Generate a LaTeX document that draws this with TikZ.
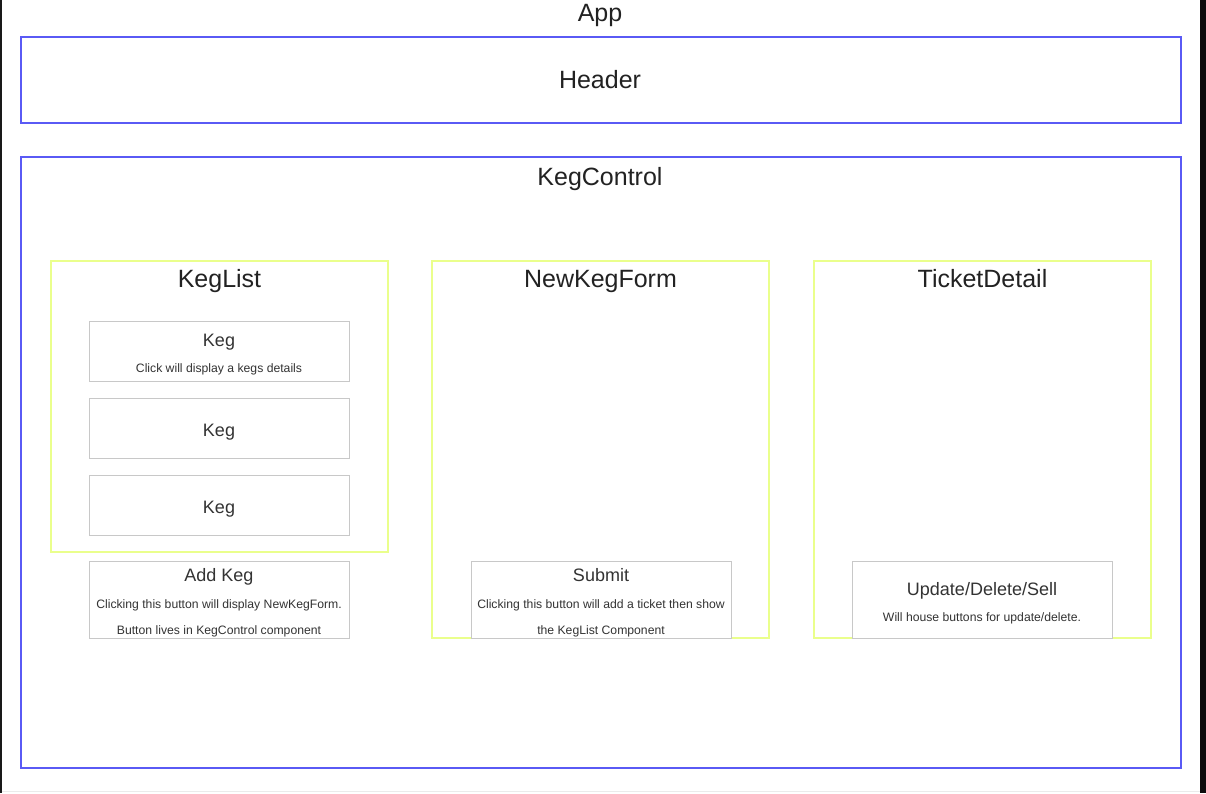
\documentclass[tikz,border=0pt]{standalone}
\usepackage{fontspec}
\setmainfont{Liberation Sans}
\definecolor{bluel}{HTML}{5A5AF5}
\definecolor{yell}{HTML}{EAFF8C}
\definecolor{grayl}{HTML}{C8C8C8}
\definecolor{txt}{HTML}{222222}
\definecolor{txtb}{HTML}{333333}
\begin{document}
\begin{tikzpicture}[x=1pt,y=-1pt,
  bluebox/.style={draw=bluel,line width=1.2pt},
  yelbox/.style={draw=yell,line width=1.2pt},
  graybox/.style={draw=grayl,line width=1pt},
  bigtitle/.style={font=\fontsize{25}{28}\selectfont,text=txt,inner sep=0pt,anchor=base},
  midtitle/.style={font=\fontsize{18}{21}\selectfont,text=txtb,inner sep=0pt,anchor=base},
  smalltxt/.style={font=\fontsize{12.2}{14}\selectfont,text=txtb,inner sep=0pt,anchor=base}]
\useasboundingbox (0,0) rectangle (1206,793);
\fill[white] (0,0) rectangle (1206,793);
\fill[black!90] (0,0) rectangle (2,793);
\fill[black!95] (1200,0) rectangle (1206,793);
\draw[black!8,line width=1.2pt] (2,791.5) -- (1200,791.5);

\node[bigtitle] (app) at (600,21) {App};
\draw[bluebox] (21,37) rectangle (1181,123);
\node[bigtitle] (header) at (600,88) {Header};
\draw[bluebox] (21,157) rectangle (1181,768);
\node[bigtitle] (kegcontrol) at (600,185) {KegControl};

\draw[yelbox] (51,261) rectangle (388,552);
\node[bigtitle] (keglist) at (219.5,287.5) {KegList};
\draw[yelbox] (432,261) rectangle (769,638);
\node[bigtitle] (newkegform) at (600.5,287.5) {NewKegForm};
\draw[yelbox] (814,261) rectangle (1151,638);
\node[bigtitle] (ticketdetail) at (982.5,287.5) {TicketDetail};

\draw[graybox,fill=white] (89,321) rectangle (349,381);
\node[midtitle] (keg1) at (219,346) {Keg};
\node[smalltxt] (keg1d) at (219,372) {Click will display a kegs details};
\draw[graybox,fill=white] (89,398) rectangle (349,458);
\node[midtitle] (keg2) at (219,436) {Keg};
\draw[graybox,fill=white] (89,475) rectangle (349,535);
\node[midtitle] (keg3) at (219,513) {Keg};

\draw[graybox,fill=white] (89,561) rectangle (349,638);
\node[midtitle] (addkeg) at (219,581) {Add Keg};
\node[smalltxt] (addkeg1) at (219,608) {Clicking this button will display NewKegForm.};
\node[smalltxt] (addkeg2) at (219,634) {Button lives in KegControl component};

\draw[graybox,fill=white] (471,561) rectangle (731,638);
\node[midtitle] (submit) at (601,581) {Submit};
\node[smalltxt] (submit1) at (601,608) {Clicking this button will add a ticket then show};
\node[smalltxt] (submit2) at (601,634) {the KegList Component};

\draw[graybox,fill=white] (852,561) rectangle (1112,638);
\node[midtitle] (upd) at (982,595) {Update/Delete/Sell};
\node[smalltxt] (upd1) at (982,621) {Will house buttons for update/delete.};
\end{tikzpicture}
\end{document}
